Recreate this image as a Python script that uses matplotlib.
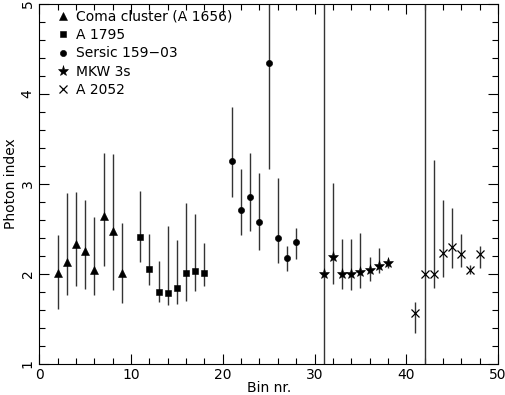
import numpy as np
import matplotlib
matplotlib.use("Agg")
from matplotlib import pyplot as plt
from matplotlib.ticker import MultipleLocator

# photon index per bin, with upper / lower ends of the error bars
coma_bin = [2, 3, 4, 5, 6, 7, 8, 9]
coma_val = [2.01, 2.13, 2.33, 2.25, 2.04, 2.64, 2.48, 2.01]
coma_hi = [2.43, 2.90, 2.91, 2.82, 2.63, 3.34, 3.33, 2.56]
coma_lo = [1.61, 1.77, 1.86, 1.83, 1.76, 2.09, 1.82, 1.68]

a1795_bin = [11, 12, 13, 14, 15, 16, 17, 18]
a1795_val = [2.41, 2.05, 1.80, 1.79, 1.84, 2.01, 2.03, 2.01]
a1795_hi = [2.92, 2.44, 2.14, 2.53, 2.38, 2.79, 2.67, 2.34]
a1795_lo = [2.13, 1.88, 1.69, 1.65, 1.67, 1.70, 1.81, 1.87]

sersic_bin = [21, 22, 23, 24, 25, 26, 27, 28]
sersic_val = [3.25, 2.71, 2.85, 2.58, 4.34, 2.40, 2.18, 2.35]
sersic_hi = [3.85, 3.17, 3.34, 3.12, 5.60, 3.07, 2.31, 2.51]
sersic_lo = [2.85, 2.43, 2.48, 2.26, 3.17, 2.12, 2.03, 2.16]

mkw_bin = [31, 32, 33, 34, 35, 36, 37, 38]
mkw_val = [2.00, 2.19, 2.00, 2.00, 2.02, 2.04, 2.09, 2.12]
mkw_hi = [5.60, 3.01, 2.39, 2.39, 2.45, 2.19, 2.29, 2.17]
mkw_lo = [0.50, 1.89, 1.83, 1.82, 1.84, 1.92, 2.01, 2.06]

a2052_bin = [41, 42, 43, 44, 45, 46, 47, 48]
a2052_val = [1.56, 2.00, 2.00, 2.23, 2.30, 2.22, 2.04, 2.22]
a2052_hi = [1.69, 5.60, 3.27, 2.82, 2.73, 2.44, 2.10, 2.31]
a2052_lo = [1.34, 0.50, 1.84, 1.97, 2.07, 2.08, 2.00, 2.07]

series = [
    ("Coma cluster (A 1656)", coma_bin, coma_val, coma_hi, coma_lo, '^', 6),
    ("A 1795", a1795_bin, a1795_val, a1795_hi, a1795_lo, 's', 4),
    ("Sersic 159\u221203", sersic_bin, sersic_val, sersic_hi, sersic_lo, 'o', 4.5),
    ("MKW 3s", mkw_bin, mkw_val, mkw_hi, mkw_lo, '*', 8),
    ("A 2052", a2052_bin, a2052_val, a2052_hi, a2052_lo, 'x', 5.5),
]

plt.rcParams['font.family'] = ['DejaVu Sans']
fig = plt.figure(figsize=(5.05, 3.95), dpi=100)
ax = fig.add_axes([0.078, 0.079, 0.908, 0.911])

for name, b, v, hi, lo, mk, ms in series:
    v = np.array(v)
    yerr = [v - np.array(lo), np.array(hi) - v]
    ax.errorbar(b, v, yerr=yerr, fmt='none', ecolor='0.2', elinewidth=1.0, capsize=0)
    ax.plot(b, v, linestyle='none', marker=mk, markersize=ms, color='black',
            markeredgewidth=0.9 if mk == 'x' else 0.4, label=name)

ax.set_xlim(0, 50)
ax.set_ylim(1, 5)
ax.set_xlabel("Bin nr.", fontsize=10, labelpad=-1)
ax.set_ylabel("Photon index", fontsize=10, labelpad=2)

ax.xaxis.set_major_locator(MultipleLocator(10))
ax.xaxis.set_minor_locator(MultipleLocator(2))
ax.yaxis.set_major_locator(MultipleLocator(1))
ax.yaxis.set_minor_locator(MultipleLocator(0.2))
ax.tick_params(which='both', direction='in', top=True, right=True, labelsize=10, width=0.8)
ax.tick_params(which='major', length=7)
ax.tick_params(which='minor', length=4)
ax.tick_params(axis='x', pad=3)
for lab in ax.get_yticklabels():
    lab.set_rotation(90)
    lab.set_va('center')
for sp in ax.spines.values():
    sp.set_linewidth(0.8)

ax.legend(loc='upper left', bbox_to_anchor=(0.028, 1.0), frameon=False, fontsize=10,
          handlelength=0.8, handletextpad=0.5, labelspacing=0.32,
          borderaxespad=0.2, borderpad=0.2)

fig.savefig("out.png", dpi=100)
